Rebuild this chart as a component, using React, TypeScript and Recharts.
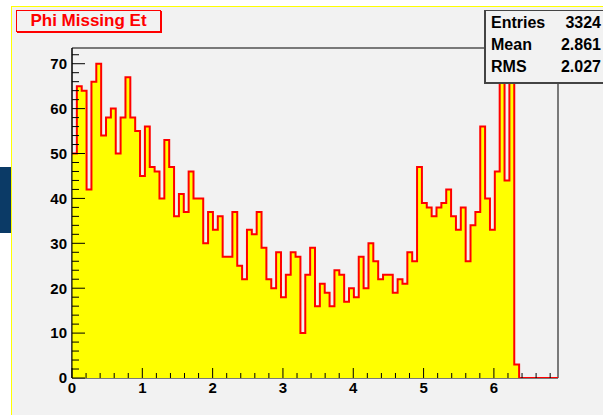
import { AreaChart, Area, XAxis, YAxis, ReferenceArea } from 'recharts';

// 100 bins on [0, 1.1 * 2pi]
const binWidth = 0.069115;

const counts = [
  50, 65, 64, 42, 66, 70, 54, 58, 60, 50,
  58, 67, 58, 55, 45, 56, 47, 46, 40, 53,
  47, 36, 41, 37, 46, 40, 40, 30, 37, 33,
  36, 27, 27, 37, 25, 22, 33, 32, 37, 29,
  22, 20, 28, 18, 23, 28, 27, 10, 23, 29,
  16, 21, 19, 16, 24, 23, 17, 20, 18, 27,
  20, 30, 26, 22, 23, 23, 19, 22, 21, 28,
  26, 47, 39, 38, 36, 38, 39, 42, 36, 33,
  38, 26, 34, 37, 56, 40, 33, 46, 66, 44,
  68, 3, 0, 0, 0, 0, 0, 0, 0, 0,
];

const xMajorTicks = [0, 1, 2, 3, 4, 5, 6];
const xAllTicks = [
  0, 0.2, 0.4, 0.6, 0.8, 1, 1.2, 1.4, 1.6, 1.8, 2, 2.2, 2.4, 2.6, 2.8, 3, 3.2, 3.4,
  3.6, 3.8, 4, 4.2, 4.4, 4.6, 4.8, 5, 5.2, 5.4, 5.6, 5.8, 6, 6.2, 6.4, 6.6, 6.8,
];
const yMajorTicks = [0, 10, 20, 30, 40, 50, 60, 70];
const yAllTicks = [
  0, 2, 4, 6, 8, 10, 12, 14, 16, 18, 20, 22, 24, 26, 28, 30, 32, 34, 36,
  38, 40, 42, 44, 46, 48, 50, 52, 54, 56, 58, 60, 62, 64, 66, 68, 70, 72,
];

const stats = [
  ['Entries', '3324'],
  ['Mean', '2.861'],
  ['RMS', '2.027'],
];

const xMax = counts.length * binWidth;
const yMax = 73.5;

const data = [
  ...counts.map((v, i) => ({ x: i * binWidth, v })),
  { x: xMax, v: 0 },
];

const font = '"Liberation Sans", Arial, Helvetica, sans-serif';

// ROOT style: ticks point into the frame, labels outside
function XTick(props: any) {
  const { x, y, payload } = props;
  const major = xMajorTicks.includes(payload.value);
  return (
    <g>
      <line x1={x} x2={x} y1={y} y2={y - (major ? 10 : 5)} stroke="#000" />
      {major && (
        <text
          x={x}
          y={y + 4}
          dy="0.71em"
          textAnchor="middle"
          fill="#000"
          fontSize={15}
          fontWeight="bold"
          fontFamily={font}
        >
          {payload.value}
        </text>
      )}
    </g>
  );
}

function YTick(props: any) {
  const { x, y, payload } = props;
  const major = yMajorTicks.includes(payload.value);
  return (
    <g>
      <line x1={x} x2={x + (major ? 13 : 7)} y1={y} y2={y} stroke="#000" />
      {major && (
        <text
          x={x - 5}
          y={y}
          dy="0.355em"
          textAnchor="end"
          fill="#000"
          fontSize={15}
          fontWeight="bold"
          fontFamily={font}
        >
          {payload.value}
        </text>
      )}
    </g>
  );
}

export default function App() {
  return (
    <div style={{ position: 'relative', width: 603, height: 415, overflow: 'hidden', background: '#fff' }}>
      <style>{'body{margin:0}'}</style>
      {/* pad */}
      <div
        style={{
          position: 'absolute',
          left: 11,
          top: 6,
          right: 0,
          bottom: 0,
          background: '#f2f2f2',
          borderLeft: '1px solid #ffff00',
          borderTop: '1px solid #ffff00',
        }}
      />
      <div style={{ position: 'absolute', left: 0, top: 167, width: 11, height: 66, background: '#0b3a66' }} />

      <div style={{ position: 'absolute', left: 0, top: 0 }}>
        <AreaChart width={603} height={415} data={data} margin={{ top: 48, right: 45, bottom: 7, left: 12 }}>
          <ReferenceArea x1={0} x2={xMax} y1={0} y2={yMax} fill="none" stroke="#000" strokeWidth={1} />
          <Area
            type="stepAfter"
            dataKey="v"
            stroke="#ff0000"
            strokeWidth={2}
            fill="#ffff00"
            fillOpacity={1}
            isAnimationActive={false}
            dot={false}
            activeDot={false}
          />
          <XAxis
            type="number"
            dataKey="x"
            domain={[0, xMax]}
            ticks={xAllTicks}
            interval={0}
            allowDataOverflow
            height={30}
            tickSize={0}
            tickMargin={0}
            tickLine={false}
            axisLine={false}
            tick={<XTick />}
          />
          <YAxis
            type="number"
            domain={[0, yMax]}
            ticks={yAllTicks}
            interval={0}
            allowDataOverflow
            width={60}
            tickSize={0}
            tickMargin={0}
            tickLine={false}
            axisLine={{ stroke: '#000' }}
            tick={<YTick />}
          />
        </AreaChart>
      </div>

      {/* title */}
      <div
        style={{
          position: 'absolute',
          left: 16,
          top: 10,
          width: 143,
          height: 20,
          border: '1px solid #ff0000',
          boxShadow: '1px 1px 0 #ff0000',
          background: '#f2f2f2',
          color: '#ff0000',
          fontFamily: font,
          fontWeight: 'bold',
          fontSize: 17,
          lineHeight: '20px',
          textAlign: 'center',
        }}
      >
        Phi Missing Et
      </div>

      {/* stats box */}
      <div
        style={{
          position: 'absolute',
          left: 484,
          top: 10,
          width: 130,
          height: 71,
          borderTop: '1px solid #444',
          borderLeft: '2px solid #444',
          borderBottom: '2px solid #444',
          background: '#f2f2f2',
          fontFamily: font,
          fontWeight: 'bold',
          fontSize: 16,
          color: '#000',
        }}
      >
        {stats.map(([k, v], i) => (
          <div
            key={k}
            style={{
              position: 'absolute',
              left: 5,
              top: 1 + i * 22,
              width: 110,
              height: 22,
              lineHeight: '22px',
              display: 'flex',
              justifyContent: 'space-between',
            }}
          >
            <span>{k}</span>
            <span>{v}</span>
          </div>
        ))}
      </div>
    </div>
  );
}
